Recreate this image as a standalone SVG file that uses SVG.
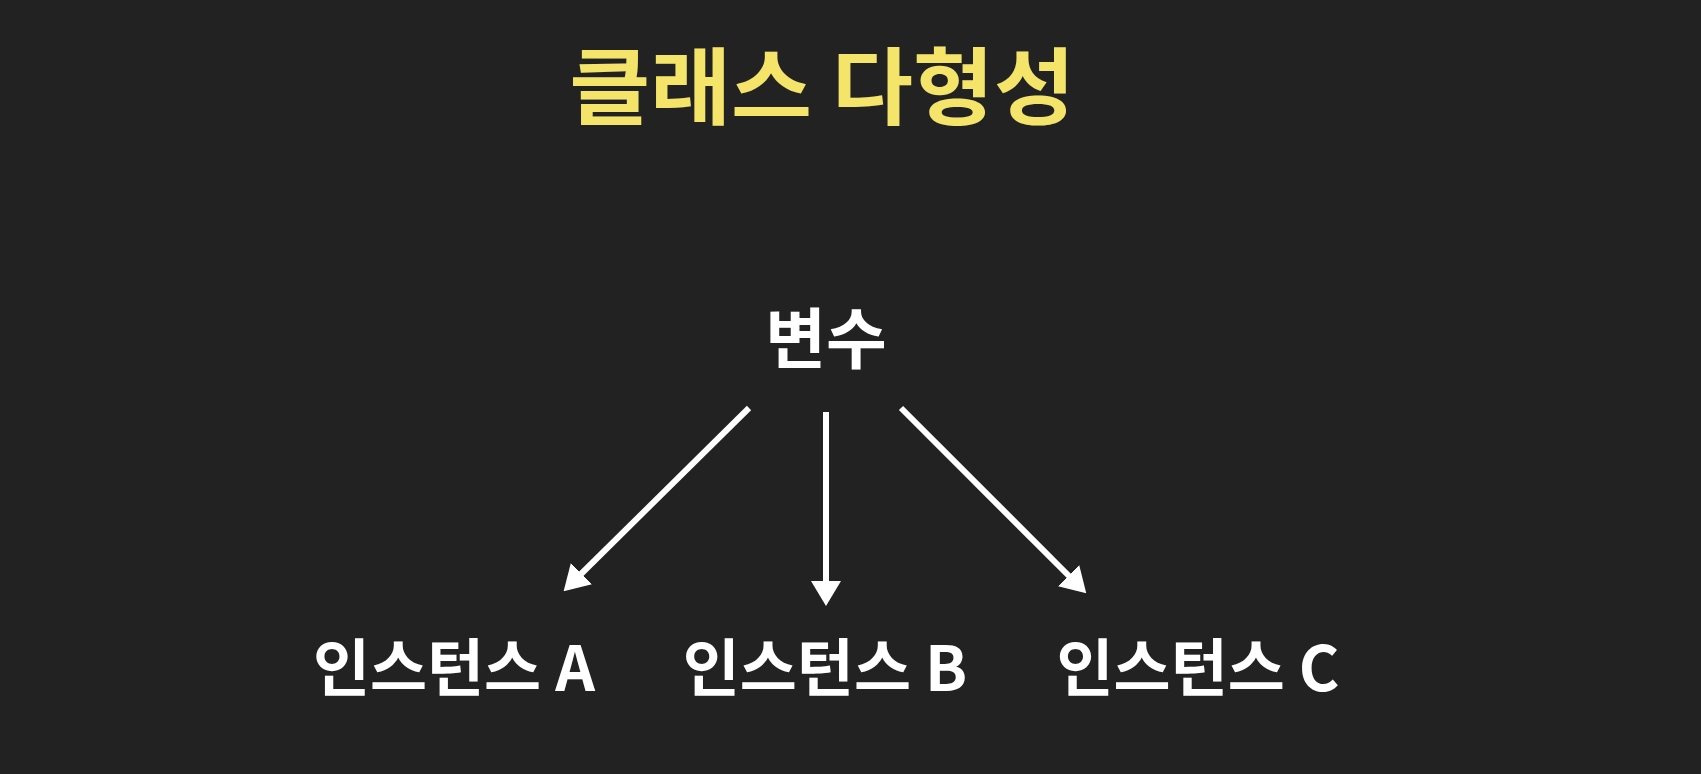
<svg xmlns="http://www.w3.org/2000/svg" width="1701" height="774" viewBox="0 0 1701 774">
<defs>
<style>
.t{font-family:"Noto Sans CJK KR","Noto Sans",sans-serif;font-weight:700;text-anchor:middle}
.title{fill:#f5e46a;font-size:88px}
.node{fill:#ffffff}
.edge{stroke:#ffffff;stroke-width:6;fill:none}
</style>
<marker id="ah" markerUnits="userSpaceOnUse" markerWidth="25" markerHeight="30" viewBox="0 0 25 30" refX="2" refY="15" orient="auto">
<path d="M0,0 L25,15 L0,30 Z" fill="#ffffff"/>
</marker>
</defs>
<rect width="1701" height="774" fill="#222222"/>
<g id="title"><text class="t title" transform="translate(822,117.5) scale(1,0.95)" x="0" y="0">클래스 다형성</text></g>
<g id="node-var"><text class="t node" x="826" y="363" font-size="66">변수</text></g>
<g id="node-a"><text class="t node" x="454" y="691" font-size="62">인스턴스 A</text></g>
<g id="node-b"><text class="t node" x="825" y="691" font-size="62">인스턴스 B</text></g>
<g id="node-c"><text class="t node" x="1198" y="691" font-size="62">인스턴스 C</text></g>
<g id="connectors">
<line class="edge" x1="749" y1="408" x2="580" y2="575" marker-end="url(#ah)"/>
<line class="edge" x1="826" y1="412" x2="826" y2="583" marker-end="url(#ah)"/>
<line class="edge" x1="901" y1="408" x2="1070" y2="577" marker-end="url(#ah)"/>
</g>
</svg>
